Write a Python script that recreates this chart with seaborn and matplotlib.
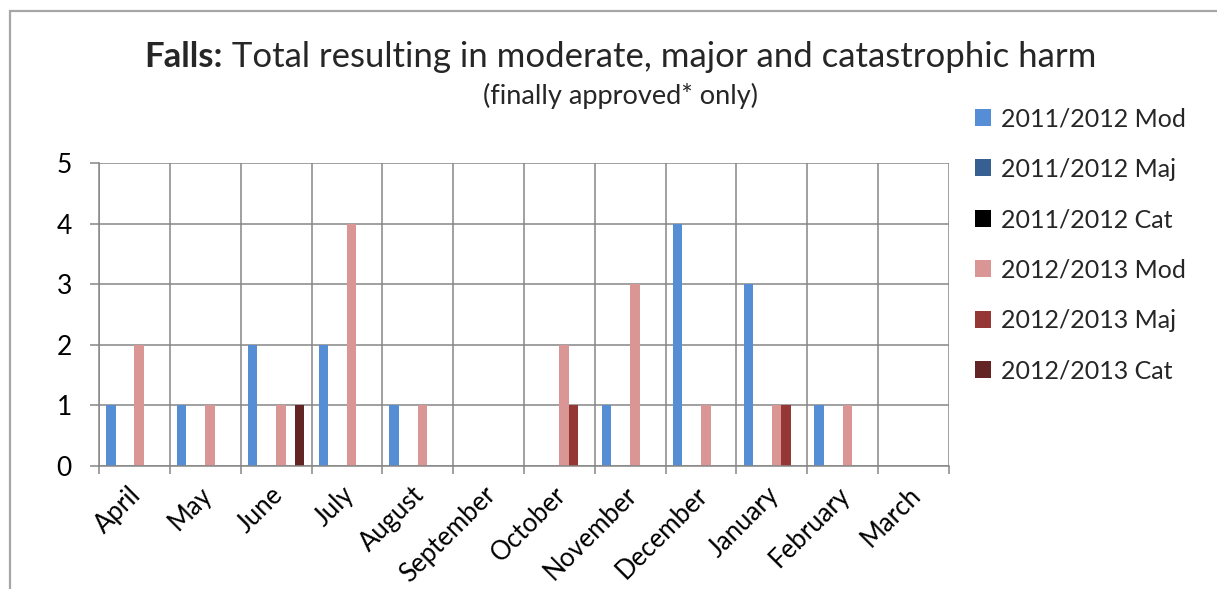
import numpy as np
import pandas as pd
import matplotlib
matplotlib.use("Agg")
import matplotlib.pyplot as plt
from matplotlib.patches import Patch, Rectangle
import matplotlib.transforms as mtransforms
import seaborn as sns

months = ["April", "May", "June", "July", "August", "September",
          "October", "November", "December", "January", "February", "March"]
series = ["2011/2012 Mod", "2011/2012 Maj", "2011/2012 Cat",
          "2012/2013 Mod", "2012/2013 Maj", "2012/2013 Cat"]
mod_2011 = [1, 1, 2, 2, 1, 0, 0, 1, 4, 3, 1, 0]
maj_2011 = [0, 0, 0, 0, 0, 0, 0, 0, 0, 0, 0, 0]
cat_2011 = [0, 0, 0, 0, 0, 0, 0, 0, 0, 0, 0, 0]
mod_2012 = [2, 1, 1, 4, 1, 0, 2, 3, 1, 1, 1, 0]
maj_2012 = [0, 0, 0, 0, 0, 0, 1, 0, 0, 1, 0, 0]
cat_2012 = [0, 0, 1, 0, 0, 0, 0, 0, 0, 0, 0, 0]
colors = ["#558ED5", "#376092", "#000000", "#D99694", "#953735", "#632523"]

values = [mod_2011, maj_2011, cat_2011, mod_2012, maj_2012, cat_2012]
df = pd.DataFrame({
    "Month": months * len(series),
    "Series": [s for s in series for _ in months],
    "Count": [v for vals in values for v in vals],
})

sns.set_theme(style="white")
plt.rcParams["font.family"] = ["Lato", "DejaVu Sans"]

W, H = 1217, 589
fig = plt.figure(figsize=(W / 100, H / 100), dpi=100)
ax = fig.add_axes([99 / W, 1 - 466 / H, (949 - 99) / W, (466 - 163) / H])

sns.barplot(data=df, x="Month", y="Count", hue="Series", order=months,
            hue_order=series, palette=colors, saturation=1, width=0.8,
            ax=ax, legend=False, linewidth=0)

grid_col = "#868686"
ax.set_xlim(-0.5, len(months) - 0.5)
ax.set_ylim(0, 5)
ax.set_yticks(range(6))
ax.set_xticks(range(len(months)))
ax.set_xticks(np.arange(-0.5, len(months), 1.0), minor=True)
ax.set_xlabel("")
ax.set_ylabel("")
ax.grid(True, axis="y", color=grid_col, linewidth=1.1, zorder=0)
ax.grid(True, axis="x", which="minor", color=grid_col, linewidth=1.1, zorder=0)
ax.grid(False, axis="x", which="major")
ax.set_axisbelow(True)
for side in ["top", "right"]:
    ax.spines[side].set_visible(False)
for side in ["left", "bottom"]:
    ax.spines[side].set_color(grid_col)
    ax.spines[side].set_linewidth(1.1)
ax.tick_params(axis="y", length=6.5, width=1.1, color=grid_col, labelsize=19,
               pad=13, labelcolor="black", left=True)
ax.tick_params(axis="x", which="major", length=0, labelsize=18.5, pad=0,
               labelcolor="black")
ax.tick_params(axis="x", which="minor", length=6, width=1.1, color=grid_col,
               bottom=True)

offset = mtransforms.ScaledTranslation(3 / 100, -25 / 100, fig.dpi_scale_trans)
for lab in ax.get_xticklabels():
    lab.set_rotation(45)
    lab.set_ha("right")
    lab.set_va("center")
    lab.set_rotation_mode("anchor")
    lab.set_transform(lab.get_transform() + offset)

# title: bold lead-in followed by regular text, centred as one line
fig.canvas.draw()
renderer = fig.canvas.get_renderer()
t_size = 25
t1 = fig.text(0, 1 - 67 / H, "Falls:", fontsize=t_size, fontweight="bold",
              ha="left", va="baseline")
t2 = fig.text(0, 1 - 67 / H, " Total resulting in moderate, major and catastrophic harm",
              fontsize=t_size, ha="left", va="baseline")
w1 = t1.get_window_extent(renderer).width
w2 = t2.get_window_extent(renderer).width
cx = 620.5
x0 = cx - (w1 + w2) / 2
t1.set_x(x0 / W)
t2.set_x((x0 + w1) / W)
fig.text(cx / W, 1 - 104 / H, "(finally approved* only)", fontsize=19.5,
         ha="center", va="baseline")

handles = [Patch(facecolor=c, edgecolor="none") for c in colors]
fig.legend(handles, series, loc="upper left", bbox_to_anchor=(975 / W, 1 - 107 / H),
           frameon=False, fontsize=18, handlelength=0.65, handleheight=0.65,
           handletextpad=0.4, labelspacing=1.1, borderaxespad=0, borderpad=0)

# chart-area border (extends past the right and bottom edges)
fig.add_artist(Rectangle((10 / W, -0.1), 1.2, 1 - 11 / H + 0.1,
                         transform=fig.transFigure, fill=False,
                         edgecolor="#A6A6A6", linewidth=1.6))

fig.savefig("out.png", dpi=100)
